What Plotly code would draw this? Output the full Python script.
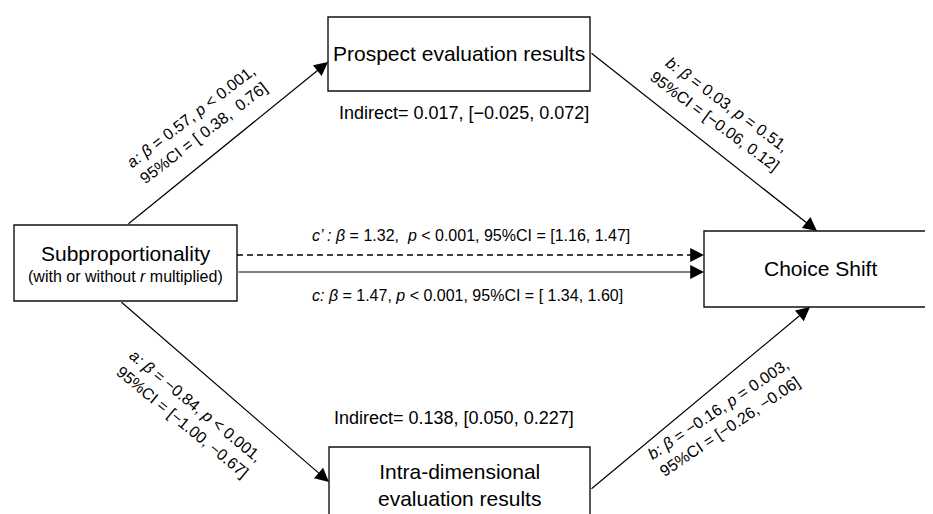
import plotly.graph_objects as go

# ---------------- data ----------------
predictor = "Subproportionality"
predictor_note = "(with or without <i>r</i> multiplied)"
outcome = "Choice Shift"
mediators = ["Prospect evaluation results", "Intra-dimensional<br>evaluation results"]

# paths: a (top), b (top), a (bottom), b (bottom), c' (direct), c (total)
path_names = ["a", "b", "a", "b", "c’", "c"]
betas = ["0.57", "0.03", "−0.84", "−0.16", "1.32", "1.47"]
p_values = ["< 0.001", "= 0.51", "< 0.001", "= 0.003", "< 0.001", "< 0.001"]
ci_low = [" 0.38", "−0.06", "−1.00", "−0.26", "1.16", " 1.34"]
ci_high = ["  0.76", " 0.12", " −0.67", " −0.06", " 1.47", " 1.60"]

indirect_est = ["0.017", "0.138"]
indirect_low = ["−0.025", "0.050"]
indirect_high = ["0.072", "0.227"]

# ---------------- layout / geometry ----------------
W, H = 933, 514
OFF = 8  # page body margin of the browser
FONT = "Liberation Sans, Arial, sans-serif"
BOX_FONT = 21
LAB_FONT = 16
IND_FONT = 18

boxes = {
    "pred": (14, 225, 237, 301),
    "med1": (328, 17, 590, 91),
    "med2": (329, 447, 590, 540),
    "out": (704, 231, 960, 307),
}

# arrows: (tail x, tail y, tip x, tip y)
edges = [
    (127, 225, 328, 62),   # a top
    (590, 52, 817, 231),   # b top
    (120, 301, 329, 482),  # a bottom
    (590, 490, 810, 307),  # b bottom
    (237, 255, 704, 255),  # c' (dashed)
    (237, 272, 704, 272),  # c
]
# label centres and text angles for the four diagonal paths
diag_pos = [(197, 125, -37.5), (721, 113, 36.5), (189, 414, 39.5), (724, 418, -34)]

fig = go.Figure()
fig.add_trace(go.Scatter(x=[0], y=[0], mode="markers", marker=dict(opacity=0),
                         hoverinfo="skip", showlegend=False))

shapes = []
for (x0, y0, x1, y1) in boxes.values():
    shapes.append(dict(type="rect", xref="x", yref="y", x0=x0, y0=y0, x1=x1, y1=y1,
                       line=dict(color="#111111", width=1.4), fillcolor="white", layer="below"))

annotations = []


def arrow(tx, ty, hx, hy):
    annotations.append(dict(x=hx, y=hy, ax=tx, ay=ty, xref="x", yref="y", axref="x", ayref="y",
                            text="", showarrow=True, arrowhead=2, arrowsize=2.3, arrowwidth=1.2,
                            arrowcolor="black", standoff=0, startstandoff=0))


for i, (tx, ty, hx, hy) in enumerate(edges):
    if i == 4:
        shapes.append(dict(type="line", xref="x", yref="y", x0=tx, y0=ty, x1=hx - 8, y1=hy,
                           line=dict(color="black", width=1.3, dash="6px,4px")))
        arrow(hx - 10, hy, hx, hy)
    else:
        arrow(tx, ty, hx, hy)


def text(x, y, s, size, angle=0, xanchor="center"):
    annotations.append(dict(x=x, y=y, xref="x", yref="y", text=s, showarrow=False,
                            font=dict(family=FONT, size=size, color="black"),
                            textangle=angle, xanchor=xanchor, yanchor="middle", align="center"))


# box texts
text(125.5, 253, predictor, BOX_FONT)
text(125.5, 276, predictor_note, LAB_FONT)
text(459, 53, mediators[0], BOX_FONT)
text(459, 485, mediators[1], BOX_FONT)
text(820, 268, outcome, BOX_FONT)

# diagonal path labels
for i, (cx, cy, ang) in enumerate(diag_pos):
    s = (f"<i>{path_names[i]}: β</i> = {betas[i]}, <i>p</i> {p_values[i]},<br>"
         f"95%CI = [{ci_low[i]},{ci_high[i]}]")
    text(cx, cy, s, LAB_FONT, angle=ang)

# direct / total effect labels
s_cp = (f"<i>{path_names[4]} : β</i> = {betas[4]},  <i>p</i> {p_values[4]}, "
        f"95%CI = [{ci_low[4]},{ci_high[4]}]")
s_c = (f"<i>{path_names[5]}: β</i> = {betas[5]}, <i>p</i> {p_values[5]}, "
       f"95%CI = [{ci_low[5]},{ci_high[5]}]")
text(310, 235, s_cp, LAB_FONT, xanchor="left")
text(310, 295, s_c, LAB_FONT, xanchor="left")

# indirect effects
text(464, 113, f"Indirect= {indirect_est[0]}, [{indirect_low[0]}, {indirect_high[0]}]", IND_FONT)
text(454, 418, f"Indirect= {indirect_est[1]}, [{indirect_low[1]}, {indirect_high[1]}]", IND_FONT)

fig.update_layout(
    width=W, height=H, autosize=False,
    margin=dict(l=0, r=0, t=0, b=0),
    paper_bgcolor="white", plot_bgcolor="white",
    xaxis=dict(range=[OFF, W + OFF], visible=False, fixedrange=True),
    yaxis=dict(range=[H + OFF, OFF], visible=False, fixedrange=True),
    shapes=shapes, annotations=annotations, showlegend=False,
)

fig.write_html("out.html", config={"displayModeBar": False})
